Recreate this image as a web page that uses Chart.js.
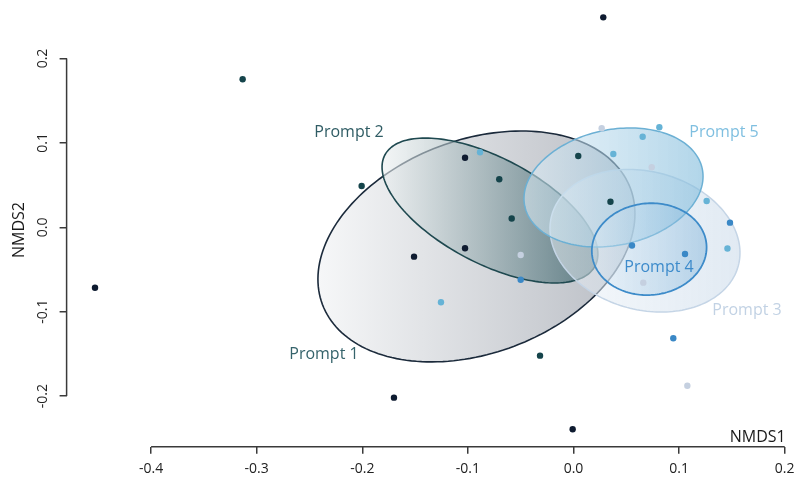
<!DOCTYPE html>
<html>
<head>
<meta charset="utf-8">
<script src="https://cdn.jsdelivr.net/npm/chart.js@4/dist/chart.umd.min.js"></script>
<style>
  html, body { margin: 0; padding: 0; background: #ffffff; }
  #wrap { width: 797px; height: 477px; }
</style>
</head>
<body>
<div id="wrap"><canvas id="c" width="797" height="477"></canvas></div>
<script>
// ---------- data ----------
const groups = ['Prompt 1', 'Prompt 2', 'Prompt 3', 'Prompt 4', 'Prompt 5'];
const xTicks = [-0.4, -0.3, -0.2, -0.1, 0.0, 0.1, 0.2];
const yTicks = [-0.2, -0.1, 0.0, 0.1, 0.2];

// NMDS site scores per prompt
const p1X = [-0.4531, -0.1700, 0.0282, -0.1027, -0.1510, -0.1027, -0.0008];
const p1Y = [-0.0716, -0.2019, 0.2488, 0.0825, -0.0348, -0.0249, -0.2393];
const p2X = [-0.3133, -0.2006, -0.0703, 0.0045, 0.0350, -0.0585, -0.0317];
const p2Y = [0.1754, 0.0489, 0.0569, 0.0845, 0.0303, 0.0104, -0.1521];
const p3X = [0.0267, 0.0741, -0.0500, 0.0661, 0.1078];
const p3Y = [0.1173, 0.0711, -0.0328, -0.0656, -0.1877];
const p4X = [-0.0500, 0.0554, 0.1056, 0.0945, 0.1482];
const p4Y = [-0.0621, -0.0216, -0.0316, -0.1315, 0.0055];
const p5X = [-0.0885, 0.0813, 0.0655, 0.0377, 0.1261, 0.1458, -0.1255];
const p5Y = [0.0889, 0.1185, 0.1073, 0.0868, 0.0312, -0.0251, -0.0889];

// dispersion ellipses (data units): centre and two conjugate semi-axis vectors
const ellCx = [-0.0919, -0.0791, 0.0677, 0.0717, 0.0379];
const ellCy = [-0.0227, 0.0199, -0.0159, -0.0259, 0.0472];
const ellUx = [0.1458, 0.0995, 0.0883, 0.0542, 0.0840];
const ellUy = [0.0689, -0.0658, -0.0300, 0.0059, 0.0223];
const ellVx = [-0.0357, 0.0233, 0.0172, -0.0038, -0.0114];
const ellVy = [0.1182, 0.0552, 0.0790, 0.0541, 0.0669];

// group label anchor positions (data units)
const labX = [-0.2363, -0.2126, 0.1643, 0.0810, 0.1425];
const labY = [-0.1501, 0.1129, -0.0980, -0.0470, 0.1129];

// ---------- styles ----------
const allX = [p1X, p2X, p3X, p4X, p5X];
const allY = [p1Y, p2Y, p3Y, p4Y, p5Y];
const pointColors = ['#0e1b30', '#15444b', '#c5d0e0', '#3a88c6', '#66b3d6'];
const labelColors = ['#35636b', '#2f5c64', '#c2d2e4', '#3d8bcb', '#7fbfe0'];
const ellStroke = ['#1b2a3b', '#1f4950', '#c5d5e6', '#3d8bc9', '#6cb0d4'];
const ellLW = [1.6, 1.6, 1.5, 1.8, 1.5];
const ellFill = [
  ['rgba(246,247,248,1)', 'rgba(185,189,196,1)'],
  ['rgba(236,240,241,0.6)', 'rgba(42,86,94,0.65)'],
  ['rgba(236,242,248,0.5)', 'rgba(205,220,235,0.6)'],
  ['rgba(225,238,248,0.4)', 'rgba(120,175,215,0.45)'],
  ['rgba(222,237,246,0.55)', 'rgba(130,188,220,0.62)']
];
const drawOrder = [0, 1, 2, 4, 3];
const FONT = '"Open Sans", "Noto Sans", sans-serif';
const AXIS_COLOR = '#3a3a3a';

const ellipsePlugin = {
  id: 'ellipses',
  beforeDatasetsDraw(chart) {
    const ctx = chart.ctx, xs = chart.scales.x, ys = chart.scales.y;
    drawOrder.forEach(i => {
      const pts = [];
      const n = 180;
      for (let k = 0; k <= n; k++) {
        const t = 2 * Math.PI * k / n;
        const dx = ellCx[i] + Math.cos(t) * ellUx[i] + Math.sin(t) * ellVx[i];
        const dy = ellCy[i] + Math.cos(t) * ellUy[i] + Math.sin(t) * ellVy[i];
        pts.push([xs.getPixelForValue(dx), ys.getPixelForValue(dy)]);
      }
      let minX = Infinity, maxX = -Infinity;
      pts.forEach(p => { minX = Math.min(minX, p[0]); maxX = Math.max(maxX, p[0]); });
      ctx.save();
      ctx.beginPath();
      pts.forEach((p, k) => k ? ctx.lineTo(p[0], p[1]) : ctx.moveTo(p[0], p[1]));
      ctx.closePath();
      const g = ctx.createLinearGradient(minX, 0, maxX, 0);
      g.addColorStop(0, ellFill[i][0]);
      g.addColorStop(1, ellFill[i][1]);
      ctx.fillStyle = g;
      ctx.fill();
      ctx.lineWidth = ellLW[i];
      ctx.strokeStyle = ellStroke[i];
      ctx.stroke();
      ctx.restore();
    });
  }
};

const axisPlugin = {
  id: 'axesR',
  afterDraw(chart) {
    const ctx = chart.ctx, xs = chart.scales.x, ys = chart.scales.y, ca = chart.chartArea;
    ctx.save();
    ctx.strokeStyle = AXIS_COLOR;
    ctx.lineWidth = 1.5;
    // x axis line
    ctx.beginPath();
    ctx.moveTo(xs.getPixelForValue(xTicks[0]), ca.bottom);
    ctx.lineTo(xs.getPixelForValue(xTicks[xTicks.length - 1]), ca.bottom);
    ctx.stroke();
    // y axis line
    ctx.beginPath();
    ctx.moveTo(ca.left, ys.getPixelForValue(yTicks[0]));
    ctx.lineTo(ca.left, ys.getPixelForValue(yTicks[yTicks.length - 1]));
    ctx.stroke();
    // y tick labels (rotated, R style)
    ctx.fillStyle = '#222';
    ctx.font = '14px ' + FONT;
    ctx.textAlign = 'center';
    ctx.textBaseline = 'middle';
    yTicks.forEach(v => {
      ctx.save();
      ctx.translate(ca.left - 24, ys.getPixelForValue(v));
      ctx.rotate(-Math.PI / 2);
      ctx.fillText(v.toFixed(1), 0, 0);
      ctx.restore();
    });
    // axis titles
    ctx.font = '16px ' + FONT;
    ctx.fillStyle = '#1a1a1a';
    ctx.textAlign = 'right';
    ctx.textBaseline = 'alphabetic';
    ctx.fillText('NMDS1', xs.getPixelForValue(xTicks[xTicks.length - 1]) + 1, ca.bottom - 5);
    ctx.save();
    ctx.translate(ca.left - 47, 230);
    ctx.rotate(-Math.PI / 2);
    ctx.textAlign = 'center';
    ctx.textBaseline = 'middle';
    ctx.fillText('NMDS2', 0, 0);
    ctx.restore();
    // group labels
    ctx.font = '16px ' + FONT;
    ctx.textAlign = 'center';
    ctx.textBaseline = 'middle';
    groups.forEach((g, i) => {
      ctx.fillStyle = labelColors[i];
      ctx.fillText(g, xs.getPixelForValue(labX[i]), ys.getPixelForValue(labY[i]));
    });
    ctx.restore();
  }
};

new Chart(document.getElementById('c'), {
  type: 'scatter',
  data: {
    datasets: groups.map((g, i) => ({
      label: g,
      data: allX[i].map((x, j) => ({ x: x, y: allY[i][j] })),
      backgroundColor: pointColors[i],
      borderColor: pointColors[i],
      borderWidth: 0,
      pointRadius: 3.2,
      pointHoverRadius: 3.2
    }))
  },
  options: {
    responsive: false,
    animation: false,
    layout: { padding: { top: 7.9, right: 12.3, left: 0, bottom: 0 } },
    plugins: { legend: { display: false }, tooltip: { enabled: false } },
    scales: {
      x: {
        type: 'linear', min: -0.48, max: 0.2,
        afterBuildTicks: s => { s.ticks = xTicks.map(v => ({ value: v })); },
        afterFit: s => { s.height = 30.3; s.paddingLeft = 0; s.paddingRight = 0; },
        border: { display: false },
        grid: { drawOnChartArea: false, drawTicks: true, tickLength: 7, color: AXIS_COLOR, lineWidth: 1.5 },
        ticks: { autoSkip: false, maxRotation: 0, padding: 7, color: '#222',
                 font: { family: FONT, size: 14 }, callback: v => Number(v).toFixed(1) }
      },
      y: {
        type: 'linear', min: -0.26, max: 0.26,
        afterBuildTicks: s => { s.ticks = yTicks.map(v => ({ value: v })); },
        afterFit: s => { s.width = 66.6; s.paddingTop = 0; s.paddingBottom = 0; },
        border: { display: false },
        grid: { drawOnChartArea: false, drawTicks: true, tickLength: 7, color: AXIS_COLOR, lineWidth: 1.5 },
        ticks: { display: false }
      }
    }
  },
  plugins: [ellipsePlugin, axisPlugin]
});
</script>
</body>
</html>
